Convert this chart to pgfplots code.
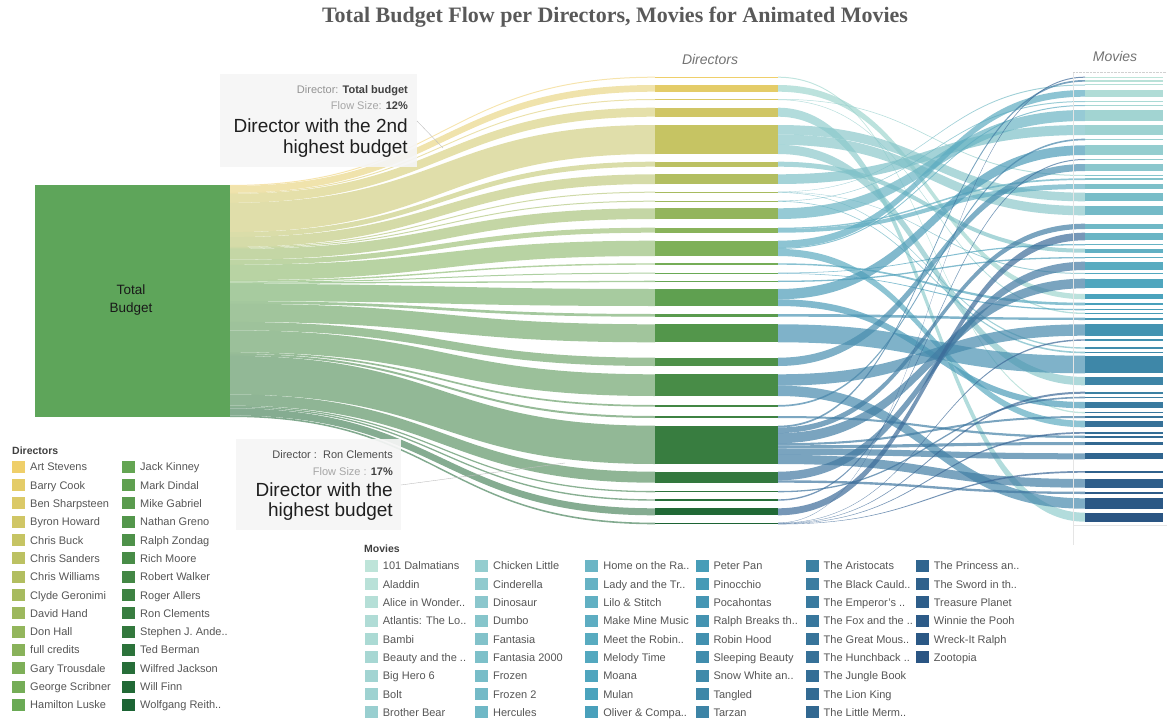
\documentclass[border=0pt]{standalone}
\usepackage{pgfplots}
\pgfplotsset{compat=1.18}
\usepackage{fontspec}
\setmainfont{Liberation Sans}
\newfontfamily\titlefont{Liberation Serif}

\definecolor{dA}{HTML}{EFCF6A}
\definecolor{dB}{HTML}{6AAA55}
\definecolor{dC}{HTML}{1C6434}
\definecolor{fA}{HTML}{A6D9D1}
\definecolor{fB}{HTML}{4FA3BD}
\definecolor{fC}{HTML}{3B6796}
\definecolor{mA}{HTML}{BEE4D9}
\definecolor{mB}{HTML}{4AA3BD}
\definecolor{mC}{HTML}{2A5583}
\definecolor{totalc}{HTML}{5EA55A}
\definecolor{legtext}{HTML}{555555}
\definecolor{titlec}{HTML}{595959}

\foreach \i in {1,...,28}{%
  \ifnum\i<15\relax
    \pgfmathtruncatemacro\p{round(100*(14-\i)/13)}%
    \xglobal\colorlet{dc\i}{dA!\p!dB}%
    \xglobal\colorlet{fc\i}{fA!\p!fB}%
  \else
    \pgfmathtruncatemacro\p{round(100*(28-\i)/14)}%
    \xglobal\colorlet{dc\i}{dB!\p!dC}%
    \xglobal\colorlet{fc\i}{fB!\p!fC}%
  \fi}
\foreach \i in {1,...,51}{%
  \ifnum\i<27\relax
    \pgfmathtruncatemacro\p{round(100*(26-\i)/25)}%
    \xglobal\colorlet{mv\i}{mA!\p!mB}%
  \else
    \pgfmathtruncatemacro\p{round(100*(51-\i)/25)}%
    \xglobal\colorlet{mv\i}{mB!\p!mC}%
  \fi}

% flow from Total Budget (x=230) to a director (x=655)
\newcommand\lflow[5]{\fill[#5] (axis cs:230,#1) .. controls (axis cs:442.5,#1) and (axis cs:442.5,#3) .. (axis cs:655,#3) -- (axis cs:655,#4) .. controls (axis cs:442.5,#4) and (axis cs:442.5,#2) .. (axis cs:230,#2) -- cycle;}
% flow from a director (x=778) to a movie (x=1085)
\newcommand\rflow[5]{\fill[#5,fill opacity=0.7] (axis cs:778,#1) .. controls (axis cs:931.5,#1) and (axis cs:931.5,#3) .. (axis cs:1085,#3) -- (axis cs:1085,#4) .. controls (axis cs:931.5,#4) and (axis cs:931.5,#2) .. (axis cs:778,#2) -- cycle;}
\newcommand\dbar[3]{\addplot[forget plot,draw=none,fill=#3] coordinates {(655,#1) (778,#1) (778,#2) (655,#2)};}
\newcommand\mbar[3]{\addplot[forget plot,draw=none,fill=#3] coordinates {(1085,#1) (1163,#1) (1163,#2) (1085,#2)};}

\tikzset{legnode/.style={anchor=base west,inner sep=0pt,text=legtext,font=\fontsize{11}{13}\selectfont}}

\begin{document}
\begin{tikzpicture}
\useasboundingbox (0,0) rectangle (1167pt,720pt);
\begin{axis}[at={(0,0)},anchor=south west,scale only axis,width=1167pt,height=720pt,
  xmin=0,xmax=1167,ymin=0,ymax=720,y dir=reverse,hide axis,clip=false]
% Total budget -> directors
\lflow{185.0}{186.0}{76.7}{77.7}{dc1!55!white}
\lflow{186.0}{192.8}{85.0}{91.7}{dc2!55!white}
\lflow{192.8}{193.8}{99.0}{100.0}{dc3!55!white}
\lflow{193.8}{202.8}{107.7}{116.7}{dc4!55!white}
\lflow{202.8}{232.1}{125.0}{154.0}{dc5!55!white}
\lflow{232.1}{237.1}{161.7}{166.7}{dc6!55!white}
\lflow{237.1}{246.9}{174.3}{184.0}{dc7!55!white}
\lflow{246.9}{247.9}{191.7}{192.7}{dc8!55!white}
\lflow{247.9}{248.9}{200.7}{201.7}{dc9!55!white}
\lflow{248.9}{259.7}{208.3}{219.0}{dc10!55!white}
\lflow{259.7}{264.8}{227.7}{232.7}{dc11!55!white}
\lflow{264.8}{280.2}{240.7}{256.0}{dc12!55!white}
\lflow{280.2}{281.6}{263.3}{264.7}{dc13!55!white}
\lflow{281.6}{282.6}{272.7}{273.7}{dc14!55!white}
\lflow{282.6}{283.9}{280.7}{282.0}{dc15!55!white}
\lflow{283.9}{301.1}{289.0}{306.0}{dc16!55!white}
\lflow{301.1}{303.8}{314.0}{316.7}{dc17!55!white}
\lflow{303.8}{321.9}{324.3}{342.3}{dc18!55!white}
\lflow{321.9}{330.3}{357.7}{366.0}{dc19!55!white}
\lflow{330.3}{352.2}{374.3}{396.0}{dc20!55!white}
\lflow{352.2}{353.9}{405.0}{406.7}{dc21!55!white}
\lflow{353.9}{355.9}{416.0}{418.0}{dc22!55!white}
\lflow{355.9}{394.5}{425.7}{464.0}{dc23!55!white}
\lflow{394.5}{405.6}{471.7}{482.7}{dc24!55!white}
\lflow{405.6}{406.9}{491.0}{492.3}{dc25!55!white}
\lflow{406.9}{408.3}{499.3}{500.7}{dc26!55!white}
\lflow{408.3}{415.4}{508.3}{515.3}{dc27!55!white}
\lflow{415.4}{417.0}{522.7}{524.3}{dc28!55!white}
% Total budget node
\addplot[forget plot,draw=none,fill=totalc] coordinates {(35,185) (230,185) (230,417) (35,417)};
% director bars
\dbar{76.7}{77.7}{dc1}
\dbar{85.0}{91.7}{dc2}
\dbar{99.0}{100.0}{dc3}
\dbar{107.7}{116.7}{dc4}
\dbar{125.0}{154.0}{dc5}
\dbar{161.7}{166.7}{dc6}
\dbar{174.3}{184.0}{dc7}
\dbar{191.7}{192.7}{dc8}
\dbar{200.7}{201.7}{dc9}
\dbar{208.3}{219.0}{dc10}
\dbar{227.7}{232.7}{dc11}
\dbar{240.7}{256.0}{dc12}
\dbar{263.3}{264.7}{dc13}
\dbar{272.7}{273.7}{dc14}
\dbar{280.7}{282.0}{dc15}
\dbar{289.0}{306.0}{dc16}
\dbar{314.0}{316.7}{dc17}
\dbar{324.3}{342.3}{dc18}
\dbar{357.7}{366.0}{dc19}
\dbar{374.3}{396.0}{dc20}
\dbar{405.0}{406.7}{dc21}
\dbar{416.0}{418.0}{dc22}
\dbar{425.7}{464.0}{dc23}
\dbar{471.7}{482.7}{dc24}
\dbar{491.0}{492.3}{dc25}
\dbar{499.3}{500.7}{dc26}
\dbar{508.3}{515.3}{dc27}
\dbar{522.7}{524.3}{dc28}
% directors -> movies
\rflow{76.7}{77.7}{412}{413.3}{fc1}
\rflow{85}{91.7}{294}{299.3}{fc2}
\rflow{99}{99.5}{175}{176}{fc3}
\rflow{99.5}{100}{312.7}{314}{fc3}
\rflow{107.7}{116.7}{512.7}{521.7}{fc4}
\rflow{125}{134.5}{192.7}{201.3}{fc5}
\rflow{134.5}{144.8}{206}{215.3}{fc5}
\rflow{144.8}{154}{377}{385.3}{fc5}
\rflow{161.7}{166.7}{248.7}{252.7}{fc6}
\rflow{174.3}{184}{125}{135}{fc7}
\rflow{191.7}{192}{84.5}{85.5}{fc8}
\rflow{192}{192.3}{273}{274}{fc8}
\rflow{192.3}{192.7}{347.3}{348.7}{fc8}
\rflow{200.7}{201.1}{101}{102}{fc9}
\rflow{201.1}{201.7}{351.7}{353.3}{fc9}
\rflow{208.3}{219}{110}{121}{fc10}
\rflow{227.7}{229}{178.3}{180}{fc11}
\rflow{229}{232.7}{184}{189}{fc11}
\rflow{240.7}{247.9}{90}{96.7}{fc12}
\rflow{247.9}{248.9}{105}{106}{fc12}
\rflow{248.9}{256}{420.7}{427.3}{fc12}
\rflow{263.3}{264.7}{302.7}{305.3}{fc13}
\rflow{272.7}{273.2}{244}{245.3}{fc14}
\rflow{273.2}{273.7}{309}{310.3}{fc14}
\rflow{280.7}{282}{257}{258.3}{fc15}
\rflow{289}{299.3}{145.3}{155}{fc16}
\rflow{299.3}{306}{402}{408.3}{fc16}
\rflow{314}{316.7}{317.7}{320}{fc17}
\rflow{324.3}{342.3}{355.7}{373.3}{fc18}
\rflow{357.7}{366}{164}{171}{fc19}
\rflow{374.3}{385.65}{324.3}{335.7}{fc20}
\rflow{385.65}{396}{498.3}{508.7}{fc20}
\rflow{405}{406.7}{138.7}{140.3}{fc21}
\rflow{416}{418}{435.7}{438}{fc22}
\rflow{425.7}{427.5}{80}{81.7}{fc23}
\rflow{427.5}{433.1}{223.7}{229}{fc23}
\rflow{433.1}{443.2}{278.7}{288.3}{fc23}
\rflow{443.2}{445.3}{416}{418}{fc23}
\rflow{445.3}{448.5}{442}{445}{fc23}
\rflow{448.5}{454.8}{453.3}{459.3}{fc23}
\rflow{454.8}{464}{479}{487.7}{fc23}
\rflow{471.7}{480.3}{261.7}{270}{fc24}
\rflow{480.3}{482.7}{491.7}{494}{fc24}
\rflow{491}{492.3}{396.7}{398.3}{fc25}
\rflow{499.3}{500.7}{159}{160}{fc26}
\rflow{508.3}{515.3}{232.7}{240.3}{fc27}
\rflow{522.7}{523}{76.7}{77.7}{fc28}
\rflow{523}{523.3}{339.3}{340.7}{fc28}
\rflow{523.3}{523.6}{391.7}{393.7}{fc28}
\rflow{523.6}{523.95}{432}{433.7}{fc28}
\rflow{523.95}{524.3}{471}{472.7}{fc28}
% movie bars
\mbar{76.7}{77.7}{mv1}
\mbar{80}{81.7}{mv2}
\mbar{84.5}{85.5}{mv3}
\mbar{90}{96.7}{mv4}
\mbar{101}{102}{mv5}
\mbar{105}{106}{mv6}
\mbar{110}{121}{mv7}
\mbar{125}{135}{mv8}
\mbar{138.7}{140.3}{mv9}
\mbar{145.3}{155}{mv10}
\mbar{159}{160}{mv11}
\mbar{164}{171}{mv12}
\mbar{175}{176}{mv13}
\mbar{178.3}{180}{mv14}
\mbar{184}{189}{mv15}
\mbar{192.7}{201.3}{mv16}
\mbar{206}{215.3}{mv17}
\mbar{223.7}{229}{mv18}
\mbar{232.7}{240.3}{mv19}
\mbar{244}{245.3}{mv20}
\mbar{248.7}{252.7}{mv21}
\mbar{257}{258.3}{mv22}
\mbar{261.7}{270}{mv23}
\mbar{273}{274}{mv24}
\mbar{278.7}{288.3}{mv25}
\mbar{294}{299.3}{mv26}
\mbar{302.7}{305.3}{mv27}
\mbar{309}{310.3}{mv28}
\mbar{312.7}{314}{mv29}
\mbar{317.7}{320}{mv30}
\mbar{324.3}{335.7}{mv31}
\mbar{339.3}{340.7}{mv32}
\mbar{347.3}{348.7}{mv33}
\mbar{351.7}{353.3}{mv34}
\mbar{355.7}{373.3}{mv35}
\mbar{377}{385.3}{mv36}
\mbar{391.7}{393.7}{mv37}
\mbar{396.7}{398.3}{mv38}
\mbar{402}{408.3}{mv39}
\mbar{412}{413.3}{mv40}
\mbar{416}{418}{mv41}
\mbar{420.7}{427.3}{mv42}
\mbar{432}{433.7}{mv43}
\mbar{435.7}{438}{mv44}
\mbar{442}{445}{mv45}
\mbar{453.3}{459.3}{mv46}
\mbar{471}{472.7}{mv47}
\mbar{479}{487.7}{mv48}
\mbar{491.7}{494}{mv49}
\mbar{498.3}{508.7}{mv50}
\mbar{512.7}{521.7}{mv51}
\end{axis}

\begin{scope}[x=1pt,y=-1pt,shift={(0pt,720pt)}]
% frame lines near movie column
\draw[black!10] (1073,72.7) -- (1073,545);
\draw[black!18,densely dotted] (1073,72.7) -- (1167,72.7);
\draw[black!10] (1073,525) -- (1167,525);
% title and headers
\node[font=\titlefont\bfseries\fontsize{22}{26}\selectfont,text=titlec,inner sep=0pt] at (615,17) {Total Budget Flow per Directors, Movies for Animated Movies};
\node[font=\itshape\fontsize{14}{16}\selectfont,text=black!55,inner sep=0pt] at (710,60) {Directors};
\node[font=\itshape\fontsize{14}{16}\selectfont,text=black!55,inner sep=0pt] at (1115,57) {Movies};
% total budget label
\node[font=\fontsize{13.5}{15}\selectfont,text=black!90,inner sep=0pt] at (131,290) {Total};
\node[font=\fontsize{13.5}{15}\selectfont,text=black!90,inner sep=0pt] at (131,309) {Budget};
% annotations
\fill[black!4,fill opacity=0.92] (220,74) rectangle (417,167);
\draw[black!25] (417,121) -- (443,148);
\node[anchor=base east,inner sep=0pt,font=\fontsize{11}{13}\selectfont] at (408,94) {\textcolor{black!42}{Director:} \textcolor{black!75}{\bfseries Total budget}};
\node[anchor=base east,inner sep=0pt,font=\fontsize{11}{13}\selectfont] at (408,110) {\textcolor{black!35}{Flow Size:} \textcolor{black!75}{\bfseries 12\%}};
\node[anchor=base east,inner sep=0pt,font=\fontsize{19}{22}\selectfont,text=black!88] at (408,133) {Director with the 2nd};
\node[anchor=base east,inner sep=0pt,font=\fontsize{19}{22}\selectfont,text=black!88] at (408,154) {highest budget};
\fill[black!4,fill opacity=0.92] (236,439) rectangle (401,530);
\draw[black!25] (401,485) -- (565,463);
\node[anchor=base east,inner sep=0pt,font=\fontsize{11}{13}\selectfont,text=black!70] at (393,459) {Director :\ \ Ron Clements};
\node[anchor=base east,inner sep=0pt,font=\fontsize{11}{13}\selectfont] at (393,476) {\textcolor{black!35}{Flow Size :} \textcolor{black!75}{\bfseries 17\%}};
\node[anchor=base east,inner sep=0pt,font=\fontsize{19}{22}\selectfont,text=black!88] at (393,497) {Director with the};
\node[anchor=base east,inner sep=0pt,font=\fontsize{19}{22}\selectfont,text=black!88] at (393,517) {highest budget};
% directors legend
\node[anchor=base west,inner sep=0pt,text=black!75,font=\bfseries\fontsize{10.5}{12}\selectfont] at (12,455) {Directors};
\foreach \n [count=\k] in {Art Stevens,Barry Cook,Ben Sharpsteen,Byron Howard,Chris Buck,Chris Sanders,Chris Williams,Clyde Geronimi,David Hand,Don Hall,full credits,Gary Trousdale,George Scribner,Hamilton Luske}{%
  \pgfmathsetmacro\yy{466.7+18.33*(\k-1)}%
  \fill[dc\k] (12,\yy-6) rectangle (25,\yy+6);
  \node[legnode] at (30,\yy+4) {\n};}
\foreach \n [count=\k from 15] in {Jack Kinney,Mark Dindal,Mike Gabriel,Nathan Greno,Ralph Zondag,Rich Moore,Robert Walker,Roger Allers,Ron Clements,Stephen J. Ande..,Ted Berman,Wilfred Jackson,Will Finn,Wolfgang Reith..}{%
  \pgfmathsetmacro\yy{466.7+18.33*(\k-15)}%
  \fill[dc\k] (122,\yy-6) rectangle (135,\yy+6);
  \node[legnode] at (140,\yy+4) {\n};}
% movies legend
\node[anchor=base west,inner sep=0pt,text=black!75,font=\bfseries\fontsize{10.5}{12}\selectfont] at (364,553) {Movies};
\foreach \n [count=\k] in {101 Dalmatians,Aladdin,Alice in Wonder..,Atlantis: The Lo..,Bambi,Beauty and the ..,Big Hero 6,Bolt,Brother Bear,Chicken Little,Cinderella,Dinosaur,Dumbo,Fantasia,Fantasia 2000,Frozen,Frozen 2,Hercules,Home on the Ra..,Lady and the Tr..,Lilo \& Stitch,Make Mine Music,Meet the Robin..,Melody Time,Moana,Mulan,Oliver \& Compa..,Peter Pan,Pinocchio,Pocahontas,Ralph Breaks th..,Robin Hood,Sleeping Beauty,Snow White an..,Tangled,Tarzan,The Aristocats,The Black Cauld..,The Emperor’s ..,The Fox and the ..,The Great Mous..,The Hunchback ..,The Jungle Book,The Lion King,The Little Merm..,The Princess an..,The Sword in th..,Treasure Planet,Winnie the Pooh,Wreck-It Ralph,Zootopia}{%
  \pgfmathtruncatemacro\col{int((\k-1)/9)}%
  \pgfmathtruncatemacro\row{mod(\k-1,9)}%
  \pgfmathsetmacro\xx{365+110.2*\col}%
  \pgfmathsetmacro\yy{565.7+18.33*\row}%
  \fill[mv\k] (\xx,\yy-6) rectangle (\xx+13,\yy+6);
  \node[legnode] at (\xx+17.7,\yy+4) {\n};}
\end{scope}
\end{tikzpicture}
\end{document}
